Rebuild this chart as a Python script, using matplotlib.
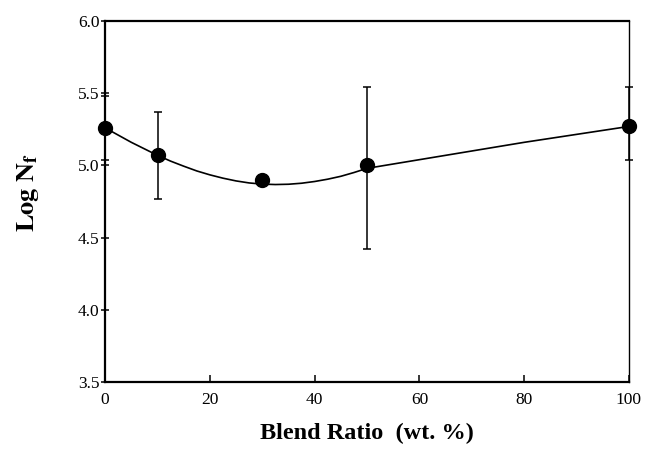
import numpy as np
import matplotlib
matplotlib.use('Agg')
import matplotlib.pyplot as plt

# measured points (blend ratio vs log Nf)
blend = [0, 10, 30, 50, 100]
log_nf = [5.26, 5.07, 4.90, 5.00, 5.27]
err_lo = [0.22, 0.30, 0.0, 0.58, 0.235]
err_hi = [0.22, 0.30, 0.0, 0.54, 0.27]

# hand-drawn trend curve
curve_x = [0, 2.5, 5, 7.5, 10, 12.5, 15, 17.5, 20, 22.5, 25, 27.5, 30, 32.5, 35,
           37.5, 40, 42.5, 45, 47.5, 50, 60, 70, 80, 90, 100]
curve_y = [5.26, 5.21, 5.16, 5.115, 5.07, 5.03, 4.995, 4.962, 4.935, 4.912, 4.893, 4.879, 4.871, 4.868, 4.87,
           4.877, 4.889, 4.905, 4.925, 4.951, 4.98, 5.04, 5.10, 5.16, 5.215, 5.27]

x_ticks = [0, 20, 40, 60, 80, 100]
y_ticks = [3.5, 4.0, 4.5, 5.0, 5.5, 6.0]

plt.rcParams['font.family'] = ['Liberation Serif', 'DejaVu Serif']
plt.rcParams['mathtext.fontset'] = 'stix'

fig = plt.figure(figsize=(6.45, 4.76), dpi=100)
ax = fig.add_axes([0.163, 0.197, 0.812, 0.759])

ax.plot(curve_x, curve_y, color='black', lw=1.2, zorder=2)
ax.errorbar(blend, log_nf, yerr=[err_lo, err_hi], fmt='o', color='black',
            markersize=10, elinewidth=1.1, capsize=3, capthick=1.1,
            clip_on=False, zorder=3)

ax.set_xlim(0, 100)
ax.set_ylim(3.5, 6.0)
ax.set_xticks(x_ticks)
ax.set_yticks(y_ticks)
ax.set_yticklabels([f'{v:.1f}' for v in y_ticks])
ax.tick_params(axis='y', direction='inout', length=6, width=1.1, labelsize=12.5, pad=1)
ax.tick_params(axis='x', direction='in', length=5, width=1.1, labelsize=12.5, pad=7)

for side in ['top', 'left', 'bottom']:
    ax.spines[side].set_linewidth(1.6)
ax.spines['right'].set_linewidth(1.0)

ax.set_xlabel('Blend Ratio  (wt. %)', fontsize=17.5, fontweight='bold', labelpad=11)
ax.set_ylabel(r'$\mathbf{Log\ N_f}$', fontsize=19)
ax.yaxis.set_label_coords(-0.122, 0.525)

fig.savefig('out.png', dpi=100)
